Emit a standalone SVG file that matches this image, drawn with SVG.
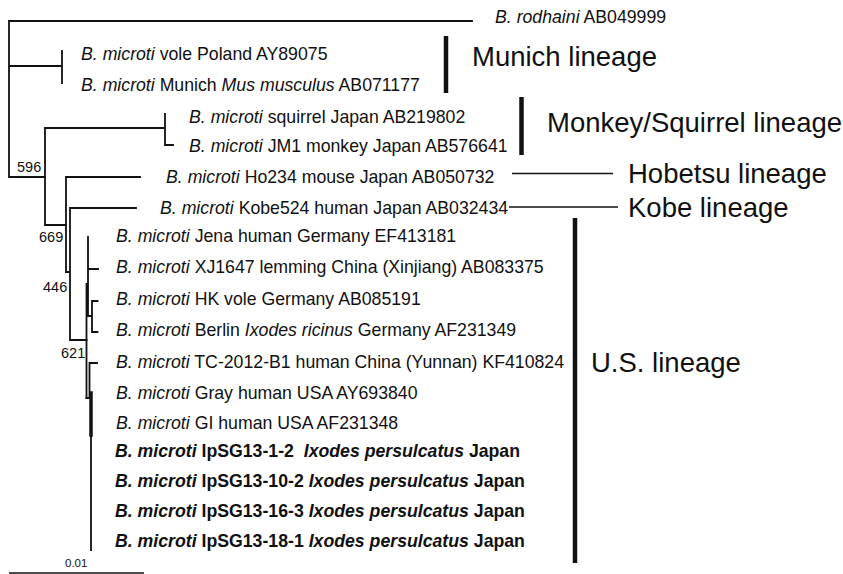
<svg xmlns="http://www.w3.org/2000/svg" width="843" height="574" viewBox="0 0 843 574">
<style>
  .t { font-family: "Liberation Sans", Arial, sans-serif; font-size: 17.7px; fill: #111; }
  .b { font-weight: bold; }
  .i { font-style: italic; }
  .bs { font-family: "Liberation Sans", Arial, sans-serif; font-size: 14.5px; fill: #111; }
  .lin { font-family: "Liberation Sans", Arial, sans-serif; font-size: 27.5px; fill: #111; }
  .tree { fill: none; stroke: #111; stroke-width: 1.8; stroke-linecap: square; }
  .bar { fill: none; stroke: #111; stroke-width: 4.5; }
  .thin { fill: none; stroke: #111; stroke-width: 1.3; }
</style>
<rect width="843" height="574" fill="#fff"/>
<g id="connectors">
  <path class="tree" d="M9,21 V177 M9,21 H472 M9,66 H62 M62,51 V83 M9,177 H45"/>
  <path class="tree" d="M45,128 V225 M45,128 H165 M165,114 V145 H173 M45,225 H66"/>
  <path class="tree" d="M66,177 V272 M66,177 H140 M66,272 H70 M70,208 V340 M70,208 H136 M70,340 H86.5"/>
  <path class="tree" d="M86.5,284 V398 M86.5,284 H88 M88,237 V316 M88,269 H98 M88,316 H92 M92,301 V332 M92,301 H97.5 M92,332 H97.5"/>
  <path class="tree" d="M86.5,398 H90 M89.5,363 V398 M89.5,363 H97 M91,393 V550"/>
  <path class="tree" style="stroke-width:3.5" d="M91,393 V435"/>
  <path class="thin" d="M9,573 H144"/>
</g>
<g id="bootstrap">
  <text class="bs" x="17" y="172">596</text>
  <text class="bs" x="39" y="242">669</text>
  <text class="bs" x="43" y="292">446</text>
  <text class="bs" x="61" y="358">621</text>
  <text class="bs" x="65" y="567" style="font-size:11.5px">0.01</text>
</g>
<g id="leaves">
  <g id="rodhaini"><text class="t" x="495" y="23"><tspan class="i">B. rodhaini</tspan> AB049999</text></g>
  <g id="vole"><text class="t" x="81" y="59.5"><tspan class="i">B. microti</tspan> vole Poland AY89075</text></g>
  <g id="munich"><text class="t" x="81" y="90.5"><tspan class="i">B. microti</tspan> Munich <tspan class="i">Mus musculus</tspan> AB071177</text></g>
  <g id="squirrel"><text class="t" x="189" y="123"><tspan class="i">B. microti</tspan> squirrel Japan AB219802</text></g>
  <g id="jm1"><text class="t" x="189" y="152"><tspan class="i">B. microti</tspan> JM1 monkey Japan AB576641</text></g>
  <g id="ho234"><text class="t" x="166" y="183"><tspan class="i">B. microti</tspan> Ho234 mouse Japan AB050732</text></g>
  <g id="kobe524"><text class="t" x="160" y="214"><tspan class="i">B. microti</tspan> Kobe524 human Japan AB032434</text></g>
  <g id="jena"><text class="t" x="116" y="242"><tspan class="i">B. microti</tspan> Jena human Germany EF413181</text></g>
  <g id="xj1647"><text class="t" x="116" y="273"><tspan class="i">B. microti</tspan> XJ1647 lemming China (Xinjiang) AB083375</text></g>
  <g id="hk"><text class="t" x="116" y="305"><tspan class="i">B. microti</tspan> HK vole Germany AB085191</text></g>
  <g id="berlin"><text class="t" x="116" y="336"><tspan class="i">B. microti</tspan> Berlin <tspan class="i">Ixodes ricinus</tspan> Germany AF231349</text></g>
  <g id="tc2012"><text class="t" x="116" y="368"><tspan class="i">B. microti</tspan> TC-2012-B1 human China (Yunnan) KF410824</text></g>
  <g id="gray"><text class="t" x="116" y="399"><tspan class="i">B. microti</tspan> Gray human USA AY693840</text></g>
  <g id="gi"><text class="t" x="116" y="429"><tspan class="i">B. microti</tspan> GI human USA AF231348</text></g>
  <g id="ipsg1"><text class="t b" x="115" y="457" xml:space="preserve"><tspan class="i">B. microti</tspan> IpSG13-1-2  <tspan class="i">Ixodes persulcatus</tspan> Japan</text></g>
  <g id="ipsg10"><text class="t b" x="115" y="487"><tspan class="i">B. microti</tspan> IpSG13-10-2 <tspan class="i">Ixodes persulcatus</tspan> Japan</text></g>
  <g id="ipsg16"><text class="t b" x="115" y="517"><tspan class="i">B. microti</tspan> IpSG13-16-3 <tspan class="i">Ixodes persulcatus</tspan> Japan</text></g>
  <g id="ipsg18"><text class="t b" x="115" y="547"><tspan class="i">B. microti</tspan> IpSG13-18-1 <tspan class="i">Ixodes persulcatus</tspan> Japan</text></g>
</g>
<g id="lineages">
  <g id="munich-lineage"><path class="bar" d="M446,36 V93"/><text class="lin" x="472" y="66">Munich lineage</text></g>
  <g id="monkey-lineage"><path class="bar" d="M521.5,97 V155"/><text class="lin" x="547" y="132">Monkey/Squirrel lineage</text></g>
  <g id="hobetsu-lineage"><path class="thin" d="M512,173.5 H613"/><text class="lin" x="628" y="183">Hobetsu lineage</text></g>
  <g id="kobe-lineage"><path class="thin" d="M509,207 H618"/><text class="lin" x="628" y="217">Kobe lineage</text></g>
  <g id="us-lineage"><path class="bar" d="M575,218 V563"/><text class="lin" x="591" y="372">U.S. lineage</text></g>
</g>
</svg>
